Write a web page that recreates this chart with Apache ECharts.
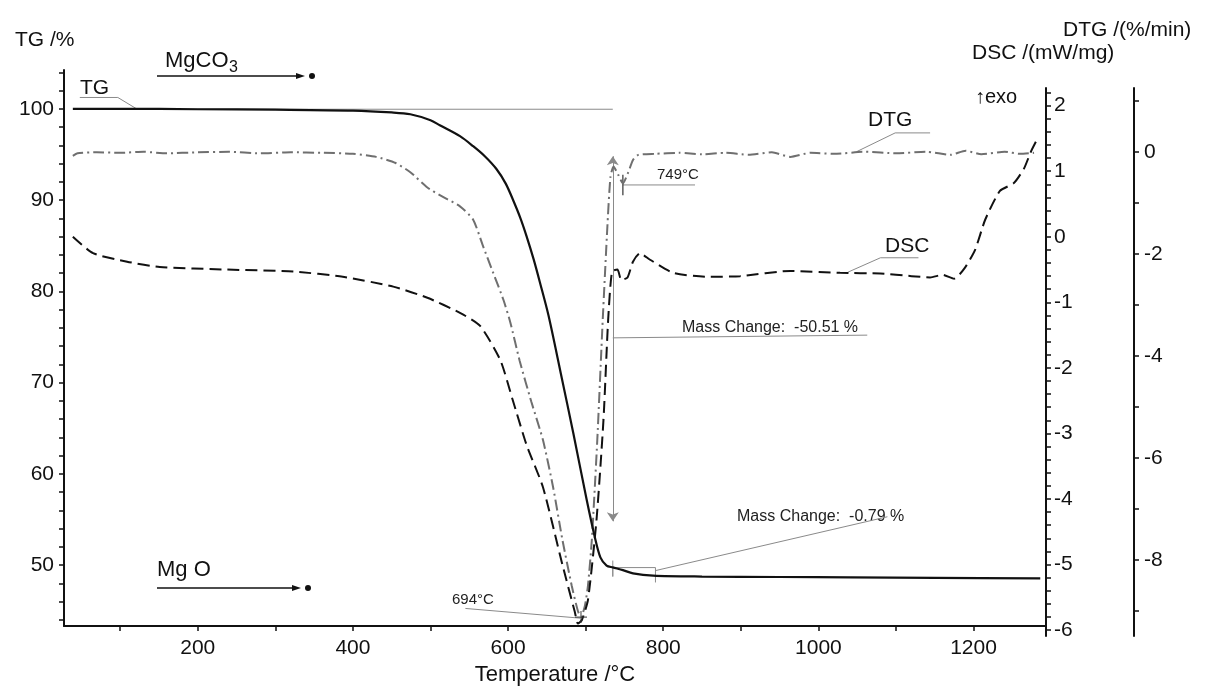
<!DOCTYPE html>
<html>
<head>
<meta charset="utf-8">
<script src="https://cdn.jsdelivr.net/npm/echarts@6/dist/echarts.min.js"></script>
<style>
html,body{margin:0;padding:0;background:#fff;}
#chart{width:1206px;height:691px;}
</style>
</head>
<body>
<div id="chart"></div>
<script>
// ---------- data ----------
const tgTemp = [39,100,200,300,400,450,474,500,512,538,555,570,585,597,607,616,624,633,641,652,668,684,701,712,719,727,735,748,761,787,850,950,1041,1150,1286];
const tgVal  = [100.0,100.0,99.95,99.9,99.8,99.6,99.4,98.75,98.2,97.0,95.9,94.8,93.4,91.8,89.9,88.0,86.0,83.5,81.0,77.4,71.0,64.5,57.3,53.0,50.85,49.95,49.75,49.45,49.1,48.85,48.75,48.7,48.65,48.6,48.55];

const dtgTemp = [39,45,70,100,130,160,200,240,280,320,360,400,430,455,474,496,512,538,555,568,581,594,603,615,630,645,658,670,682,690,694,699,703,708,715,722,728,732,736,742,748,755,761,768,790,820,850,880,910,940,964,990,1020,1060,1100,1140,1170,1190,1210,1240,1260,1278];
const dtgVal  = [-0.08,-0.03,-0.01,-0.02,0.0,-0.03,-0.01,0.0,-0.03,-0.01,-0.02,-0.04,-0.1,-0.22,-0.4,-0.7,-0.85,-1.07,-1.33,-1.86,-2.38,-2.9,-3.35,-4.1,-4.9,-5.65,-6.57,-7.6,-8.5,-9.0,-9.12,-8.9,-8.5,-7.6,-5.65,-3.3,-1.47,-0.49,-0.29,-0.45,-0.62,-0.4,-0.16,-0.06,-0.04,-0.02,-0.05,-0.02,-0.06,-0.01,-0.1,-0.02,-0.04,0.0,-0.03,0.0,-0.06,0.02,-0.05,0.0,-0.04,-0.02];

const dscTemp = [39,65,109,151,238,323,387,452,496,538,564,590,606,624,645,670,686,690,695,703,714,723,729,734,741,746,754,761,770,783,813,857,899,964,1028,1080,1120,1144,1160,1175,1189,1202,1215,1234,1252,1265,1274,1283];
const dscVal  = [0.0,-0.25,-0.38,-0.46,-0.5,-0.53,-0.61,-0.76,-0.93,-1.16,-1.36,-1.88,-2.49,-3.18,-3.82,-5.0,-5.72,-5.9,-5.85,-5.54,-4.32,-2.79,-1.27,-0.53,-0.5,-0.66,-0.62,-0.38,-0.25,-0.35,-0.55,-0.61,-0.6,-0.52,-0.55,-0.56,-0.6,-0.62,-0.58,-0.64,-0.47,-0.2,0.26,0.70,0.82,1.04,1.3,1.51];

// axis ticks / labels
const xTicks = [100,200,300,400,500,600,700,800,900,1000,1100,1200];
const xLabels = [200,400,600,800,1000,1200];
const tgLabels = [50,60,70,80,90,100];
const tgTicks = [44,46,48,50,52,54,56,58,60,62,64,66,68,70,72,74,76,78,80,82,84,86,88,90,92,94,96,98,100,102,104];
const dscLabels = [-6,-5,-4,-3,-2,-1,0,1,2];
const dscTicks = [];
for (let i = -30; i <= 11; i++) dscTicks.push(+(i*0.2).toFixed(1));
const dtgLabels = [-8,-6,-4,-2,0];
const dtgTicks = [-9,-8,-7,-6,-5,-4,-3,-2,-1,0,1];

// annotation geometry (data coordinates)
const tgLeader = [[48,101.24],[97,101.24],[122,99.95]];
const tgRefLine = [[122,99.95],[735,99.95]];
const massArrow = [[735,94.8],[735,54.8]];
const mass1Leader = [[735,74.9],[1063,75.2]];
const mass2Box = [[735,50.5],[735,48.75],[735,49.73],[790,49.73],[790,48.1]];
const mass2Leader = [[790,49.4],[1089,55.3]];
const peak694Leader = [[545,-8.95],[693,-9.14]];
const peak749Leader = [[748,-0.65],[841,-0.65]];
const peak749Tick = [[748,-0.45],[748,-0.85]];
const dtgLabelLeader = [[1144,0.37],[1099,0.37],[1049,0.0]];
const dscLabelLeader = [[1129,-0.32],[1080,-0.32],[1038,-0.54]];

const zip = (a,b) => a.map((v,i)=>[v,b[i]]);
const FONT = '"Liberation Sans", Arial, sans-serif';
const GREY = '#8a8a8a';

const chart = echarts.init(document.getElementById('chart'), null, {renderer:'canvas'});

const XMIN = 27.6, XMAX = 1293.4;

function annoLine(data, xi, yi, color, width){
  return {type:'line', data, xAxisIndex:xi, yAxisIndex:yi, symbol:'none', silent:true,
    lineStyle:{color:color||GREY, width:width||1}, z:1, animation:false};
}
const plain = v => String(v);

const option = {
  animation:false,
  backgroundColor:'#fff',
  grid:[
    {left:64, right:160, top:70, bottom:55},
    {left:64, right:160, top:88, bottom:55}
  ],
  xAxis:[
    {type:'value', gridIndex:0, min:XMIN, max:XMAX,
      axisLine:{lineStyle:{color:'#111', width:2}},
      axisTick:{show:true, customValues:xTicks, length:5, lineStyle:{color:'#111', width:1.5}},
      axisLabel:{customValues:xLabels, formatter:plain, color:'#111', fontSize:21, fontFamily:FONT, margin:12},
      splitLine:{show:false},
      name:'Temperature /°C', nameLocation:'middle', nameGap:38,
      nameTextStyle:{color:'#111', fontSize:22, fontFamily:FONT}
    },
    {type:'value', gridIndex:1, min:XMIN, max:XMAX, show:false, splitLine:{show:false}}
  ],
  yAxis:[
    {type:'value', gridIndex:0, min:43.33, max:104.25, position:'left',
      axisLine:{show:true, lineStyle:{color:'#111', width:2}},
      axisTick:{show:true, customValues:tgTicks, length:5, lineStyle:{color:'#111', width:1.5}},
      axisLabel:{customValues:tgLabels, formatter:plain, color:'#111', fontSize:21, fontFamily:FONT, margin:10},
      splitLine:{show:false}
    },
    {type:'value', gridIndex:1, min:-6.09, max:2.27, position:'right',
      axisLine:{show:true, lineStyle:{color:'#111', width:2}},
      axisTick:{show:true, customValues:dscTicks, length:5, lineStyle:{color:'#111', width:1.5}},
      axisLabel:{customValues:dscLabels, formatter:plain, color:'#111', fontSize:21, fontFamily:FONT, margin:8},
      splitLine:{show:false}
    },
    {type:'value', gridIndex:1, min:-9.49, max:1.25, position:'right', offset:88,
      axisLine:{show:true, lineStyle:{color:'#111', width:2}},
      axisTick:{show:true, customValues:dtgTicks, length:5, lineStyle:{color:'#111', width:1.5}},
      axisLabel:{customValues:dtgLabels, formatter:plain, color:'#111', fontSize:21, fontFamily:FONT, margin:10},
      splitLine:{show:false}
    }
  ],
  series:[
    annoLine(tgLeader,0,0),
    annoLine(tgRefLine,0,0),
    annoLine(mass1Leader,0,0),
    annoLine(mass2Box,0,0),
    annoLine(mass2Leader,0,0),
    annoLine(peak694Leader,1,2),
    annoLine(peak749Leader,1,2),
    annoLine(peak749Tick,1,2,'#333',1.2),
    annoLine(dtgLabelLeader,1,2),
    annoLine(dscLabelLeader,1,1),
    {type:'lines', coordinateSystem:'cartesian2d', xAxisIndex:0, yAxisIndex:0, silent:true,
      polyline:false, symbol:['arrow','arrow'], symbolSize:9,
      lineStyle:{color:GREY, width:1, opacity:1},
      data:[{coords:massArrow}], z:2},
    {type:'line', name:'DTG', data:zip(dtgTemp,dtgVal), xAxisIndex:1, yAxisIndex:2,
      symbol:'none', smooth:0.2,
      lineStyle:{color:'#6f6f6f', width:2, type:[11,4,2,4]}, z:3},
    {type:'line', name:'DSC', data:zip(dscTemp,dscVal), xAxisIndex:1, yAxisIndex:1,
      symbol:'none', smooth:0.2,
      lineStyle:{color:'#111', width:2, type:[12,6]}, z:3},
    {type:'line', name:'TG', data:zip(tgTemp,tgVal), xAxisIndex:0, yAxisIndex:0,
      symbol:'none', smooth:0.3,
      lineStyle:{color:'#111', width:2.2}, z:4},
    {type:'scatter', xAxisIndex:1, yAxisIndex:2, data:[[694,-9.12]], silent:true,
      symbol:'path://M-0.1,-1 L0.1,-1 L0.1,1 L-0.1,1 Z M-1,-0.1 L1,-0.1 L1,0.1 L-1,0.1 Z',
      symbolSize:12, itemStyle:{color:'#333'}, z:5}
  ],
  graphic:[
    {type:'text', x:15, y:40, style:{text:'TG /%', font:'21px '+FONT, fill:'#111', verticalAlign:'middle'}},
    {type:'text', x:80, y:88, style:{text:'TG', font:'21px '+FONT, fill:'#111', verticalAlign:'middle'}},
    {type:'text', x:165, y:61, style:{text:'MgCO', font:'22px '+FONT, fill:'#111', verticalAlign:'middle'}},
    {type:'text', x:229, y:68, style:{text:'3', font:'16px '+FONT, fill:'#111', verticalAlign:'middle'}},
    {type:'line', shape:{x1:157, y1:76, x2:298, y2:76}, style:{stroke:'#111', lineWidth:1.5}},
    {type:'polygon', shape:{points:[[296,73],[305,76],[296,79]]}, style:{fill:'#111'}},
    {type:'circle', shape:{cx:312, cy:76, r:3}, style:{fill:'#111'}},
    {type:'text', x:157, y:570, style:{text:'Mg O', font:'22px '+FONT, fill:'#111', verticalAlign:'middle'}},
    {type:'line', shape:{x1:157, y1:588, x2:294, y2:588}, style:{stroke:'#111', lineWidth:1.5}},
    {type:'polygon', shape:{points:[[292,585],[301,588],[292,591]]}, style:{fill:'#111'}},
    {type:'circle', shape:{cx:308, cy:588, r:3}, style:{fill:'#111'}},
    {type:'text', x:1063, y:30, style:{text:'DTG /(%/min)', font:'21px '+FONT, fill:'#111', verticalAlign:'middle'}},
    {type:'text', x:972, y:53, style:{text:'DSC /(mW/mg)', font:'21px '+FONT, fill:'#111', verticalAlign:'middle'}},
    {type:'text', x:975, y:97, style:{text:'↑exo', font:'20px '+FONT, fill:'#111', verticalAlign:'middle'}},
    {type:'text', x:868, y:120, style:{text:'DTG', font:'21px '+FONT, fill:'#111', verticalAlign:'middle'}},
    {type:'text', x:885, y:246, style:{text:'DSC', font:'21px '+FONT, fill:'#111', verticalAlign:'middle'}},
    {type:'text', x:657, y:175, style:{text:'749°C', font:'15px '+FONT, fill:'#222', verticalAlign:'middle'}},
    {type:'text', x:452, y:600, style:{text:'694°C', font:'15px '+FONT, fill:'#222', verticalAlign:'middle'}},
    {type:'text', x:682, y:328, style:{text:'Mass Change:  -50.51 %', font:'16px '+FONT, fill:'#222', verticalAlign:'middle'}},
    {type:'text', x:737, y:517, style:{text:'Mass Change:  -0.79 %', font:'16px '+FONT, fill:'#222', verticalAlign:'middle'}}
  ]
};
chart.setOption(option);
</script>
</body>
</html>
